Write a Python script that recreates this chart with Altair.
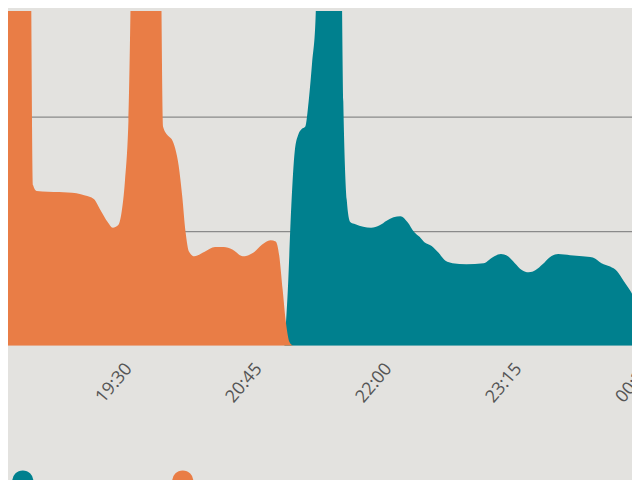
import altair as alt
import pandas as pd

# Orange series (earlier period)
orange_times = [
    "2024-05-01T18:17", "2024-05-01T18:21", "2024-05-01T18:33", "2024-05-01T18:35",
    "2024-05-01T18:37", "2024-05-01T18:50", "2024-05-01T19:00", "2024-05-01T19:05",
    "2024-05-01T19:10", "2024-05-01T19:14", "2024-05-01T19:18", "2024-05-01T19:21",
    "2024-05-01T19:24", "2024-05-01T19:26", "2024-05-01T19:28", "2024-05-01T19:30",
    "2024-05-01T19:33", "2024-05-01T19:48", "2024-05-01T19:50", "2024-05-01T19:53",
    "2024-05-01T19:55", "2024-05-01T19:57", "2024-05-01T19:59", "2024-05-01T20:01",
    "2024-05-01T20:03", "2024-05-01T20:05", "2024-05-01T20:08", "2024-05-01T20:14",
    "2024-05-01T20:20", "2024-05-01T20:25", "2024-05-01T20:30", "2024-05-01T20:36",
    "2024-05-01T20:42", "2024-05-01T20:47", "2024-05-01T20:52", "2024-05-01T20:55",
    "2024-05-01T20:57", "2024-05-01T20:59", "2024-05-01T21:01", "2024-05-01T21:03",
    "2024-05-01T21:05",
]
orange_values = [
    1.35, 4.2, 4.2, 1.40,
    1.35, 1.34, 1.33, 1.31,
    1.28, 1.18, 1.08, 1.03,
    1.05, 1.16, 1.44, 1.96,
    4.2, 4.2, 1.91, 1.83,
    1.80, 1.72, 1.57, 1.31,
    0.99, 0.82, 0.78, 0.82,
    0.86, 0.86, 0.84, 0.78,
    0.81, 0.88, 0.92, 0.91,
    0.79, 0.49, 0.19, 0.03,
    0.0,
]

# Teal series (later period)
teal_times = [
    "2024-05-01T21:00", "2024-05-01T21:02", "2024-05-01T21:04", "2024-05-01T21:06",
    "2024-05-01T21:08", "2024-05-01T21:10", "2024-05-01T21:12", "2024-05-01T21:14",
    "2024-05-01T21:16", "2024-05-01T21:18", "2024-05-01T21:20", "2024-05-01T21:32",
    "2024-05-01T21:34", "2024-05-01T21:36", "2024-05-01T21:38", "2024-05-01T21:41",
    "2024-05-01T21:50", "2024-05-01T21:55", "2024-05-01T21:59", "2024-05-01T22:03",
    "2024-05-01T22:07", "2024-05-01T22:11", "2024-05-01T22:15", "2024-05-01T22:18",
    "2024-05-01T22:21", "2024-05-01T22:25", "2024-05-01T22:29", "2024-05-01T22:33",
    "2024-05-01T22:37", "2024-05-01T22:45", "2024-05-01T22:55", "2024-05-01T23:00",
    "2024-05-01T23:05", "2024-05-01T23:09", "2024-05-01T23:13", "2024-05-01T23:17",
    "2024-05-01T23:21", "2024-05-01T23:25", "2024-05-01T23:29", "2024-05-01T23:33",
    "2024-05-01T23:38", "2024-05-01T23:45", "2024-05-01T23:52", "2024-05-01T23:58",
    "2024-05-02T00:03", "2024-05-02T00:08", "2024-05-02T00:12", "2024-05-02T00:16",
    "2024-05-02T00:20", "2024-05-02T00:24", "2024-05-02T00:30", "2024-05-02T00:37",
]
teal_values = [
    0.0, 0.49, 1.22, 1.70,
    1.84, 1.89, 1.91, 2.13,
    2.47, 2.86, 4.2, 4.2,
    2.13, 1.27, 1.08, 1.06,
    1.03, 1.05, 1.09, 1.12,
    1.13, 1.08, 0.99, 0.95,
    0.90, 0.87, 0.81, 0.74,
    0.72, 0.71, 0.72, 0.77,
    0.80, 0.78, 0.72, 0.66,
    0.64, 0.66, 0.71, 0.77,
    0.80, 0.79, 0.78, 0.77,
    0.72, 0.69, 0.65, 0.56,
    0.47, 0.36, 0.25, 0.15,
]

series_names = ["Today", "Yesterday"]
series_colors = ["#00808e", "#e97d46"]

grid_values = [1, 2, 3]

df = pd.concat([
    pd.DataFrame({"time": teal_times, "value": teal_values, "series": series_names[0]}),
    pd.DataFrame({"time": orange_times, "value": orange_values, "series": series_names[1]}),
])

tick_values = [
    alt.DateTime(year=2024, month=5, date=1, hours=19, minutes=30),
    alt.DateTime(year=2024, month=5, date=1, hours=20, minutes=45),
    alt.DateTime(year=2024, month=5, date=1, hours=22, minutes=0),
    alt.DateTime(year=2024, month=5, date=1, hours=23, minutes=15),
    alt.DateTime(year=2024, month=5, date=2, hours=0, minutes=30),
]

x_domain = [
    alt.DateTime(year=2024, month=5, date=1, hours=18, minutes=20, seconds=30),
    alt.DateTime(year=2024, month=5, date=2, hours=0, minutes=36, seconds=34),
]

x_enc = alt.X(
    "time:T",
    scale=alt.Scale(domain=x_domain),
    axis=alt.Axis(
        values=tick_values,
        format="%H:%M",
        labelAngle=310,
        labelFontSize=18,
        labelFont="Open Sans",
        labelColor="#555555",
        labelPadding=20,
        ticks=False,
        domain=False,
        grid=False,
        title=None,
        labelOverlap=False,
        labelFlush=False,
    ),
)
y_enc = alt.Y(
    "value:Q",
    stack=None,
    scale=alt.Scale(domain=[0, 2.92], nice=False, zero=True),
    axis=alt.Axis(
        values=grid_values,
        labels=False,
        ticks=False,
        domain=False,
        title=None,
        grid=True,
        gridColor="#8a8a8a",
        gridWidth=1.3,
    ),
)
color_enc = alt.Color(
    "series:N",
    scale=alt.Scale(domain=series_names, range=series_colors),
    legend=alt.Legend(
        orient="none",
        legendX=4,
        legendY=465,
        direction="horizontal",
        title=None,
        symbolType="circle",
        symbolSize=460,
        symbolStrokeWidth=0,
        labelExpr="''",
        labelOffset=0,
        columnPadding=140,
    ),
)

base = alt.Chart(df).mark_area(interpolate="monotone", clip=True, opacity=1).encode(
    x=x_enc, y=y_enc, color=color_enc
)

teal_layer = base.transform_filter(alt.datum.series == series_names[0])
orange_layer = base.transform_filter(alt.datum.series == series_names[1])

chart = alt.layer(teal_layer, orange_layer).properties(
    width=660,
    height=339,
    autosize=alt.AutoSizeParams(type="none"),
    padding={"left": 0, "top": 0, "right": -28, "bottom": 133},
).configure(
    background="#e3e2df",
).configure_view(
    stroke=None,
)

chart.save("out.html", embed_options={"renderer": "svg", "actions": False})
